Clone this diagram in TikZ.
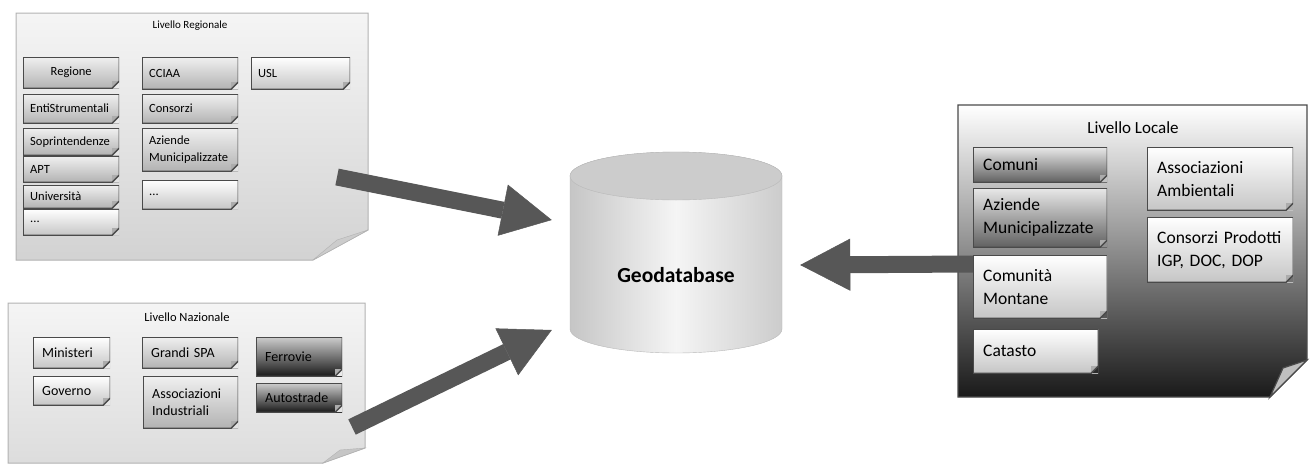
\documentclass[tikz,border=0pt]{standalone}
\usepackage{fontspec}
\setmainfont{Carlito}
\usetikzlibrary{arrows.meta,calc}
\definecolor{freccia}{HTML}{575757}
\definecolor{bordo}{HTML}{4A4A4A}

\tikzset{
  ente/.style={anchor=north west, inner ysep=0pt, align=left, text=black},
  ear/.style={path picture={
    \coordinate (nw) at (path picture bounding box.north west);
    \coordinate (se) at (path picture bounding box.south east);
    \fill[#1] (se) -- ([xshift=-7pt]se) -- ([yshift=7pt]se) -- cycle;
    \fill[gray!65] ([xshift=-7pt]se) -- ([yshift=7pt]se) -- ([shift={(-7pt,7pt)}]se) -- cycle;
    \draw[bordo, line width=1.4pt] (nw) -| ([yshift=7pt]se) -- ([xshift=-7pt]se) -| (nw) -- cycle;
  }},
  chiaro/.style={top color=white, bottom color=gray!45},
  medio/.style={top color=gray!12, bottom color=gray!60},
  forte/.style={top color=gray!18, bottom color=black!62},
  scuro/.style={top color=gray!40, bottom color=black!90},
  regbox/.style={ente, font=\fontsize{12.5}{17}\selectfont, inner xsep=7pt},
  natbox/.style={ente, font=\fontsize{14}{17}\selectfont, inner xsep=9pt},
  locbox/.style={ente, font=\fontsize{17.5}{23}\selectfont, inner xsep=10pt},
  titolo/.style={inner sep=0pt, text=black},
  freccione/.style={freccia, line width=17pt, -{Triangle[length=50pt,width=52pt,line width=0.5pt]}},
}

\begin{document}
\begin{tikzpicture}[x=1pt,y=-1pt]
  \useasboundingbox (0,0) rectangle (1310,466);

  % livello regionale
  \shadedraw[draw=gray!60, line width=1pt, top color=gray!8, bottom color=gray!35]
    (16,13) -- (368,13) -- (368,230) -- (313,260) -- (16,260) -- cycle;
  \filldraw[fill=gray!40, draw=gray!60] (368,230) -- (313,260) -- (337,240) -- cycle;
  \node[titolo, font=\fontsize{11}{13}\selectfont] (regtit) at (190,26) {Livello Regionale};

  % livello nazionale
  \shadedraw[draw=gray!60, line width=1pt, top color=gray!8, bottom color=gray!27]
    (8,303) -- (365,303) -- (365,448) -- (323,463) -- (8,463) -- cycle;
  \filldraw[fill=gray!45, draw=gray!60] (365,448) -- (323,463) -- (340,450) -- cycle;
  \node[titolo, font=\fontsize{12.5}{15}\selectfont] (naztit) at (187,317) {Livello Nazionale};

  % livello locale
  \shadedraw[draw=bordo, line width=1.2pt, top color=white, bottom color=black!90]
    (958,105) -- (1307,105) -- (1307,360) -- (1270,397) -- (958,397) -- cycle;
  \filldraw[fill=gray!50, draw=bordo, line width=1.2pt] (1307,360) -- (1270,397) -- (1283,368) -- cycle;
  \node[titolo, font=\fontsize{17}{20}\selectfont] (loctit) at (1133,128) {Livello Locale};

  % geodatabase
  \shadedraw[draw=gray!55, left color=gray!45, right color=gray!40, middle color=gray!8]
    (570,176) -- (570,329) arc (180:360:106pt and 24pt) -- (782,176) arc (0:180:106pt and 24pt) -- cycle;
  \filldraw[fill=gray!40, draw=gray!55] (676,176) ellipse (106pt and 24pt);
  \node[font=\fontsize{21.5}{24}\selectfont\bfseries, minimum width=212, inner sep=0pt] (geo) at (676,275) {Geodatabase};

  % frecce
  \coordinate (regout) at (337,177);
  \coordinate (nazout) at (352,427);
  \coordinate (locout) at (975,264);
  \draw[freccione] (regout) -- ($(geo.west)+(-18,-55)$);
  \draw[freccione] (nazout) -- ($(geo.west)+(-18,55)$);
  \draw[freccione] (locout) -- ($(geo.east)+(18,-10)$);

  % enti regionali
  \node[regbox, medio, ear=gray!15, text width=82, minimum height=31, align=center] (regione) at (23,57) {Regione};
  \node[regbox, medio, ear=gray!17, text width=82, minimum height=29] (enti) at (23,94) {EntiStrumentali};
  \node[regbox, medio, ear=gray!20, text width=82, minimum height=27] (soprint) at (23,128) {Soprintendenze};
  \node[regbox, medio, ear=gray!23, text width=82, minimum height=26] (apt) at (23,156) {APT};
  \node[regbox, medio, ear=gray!26, text width=82, minimum height=23] (univ) at (23,185) {Università};
  \node[regbox, chiaro, ear=gray!29, text width=82, minimum height=26] (altri1) at (23,209) {...};
  \node[regbox, medio, ear=gray!15, text width=82, minimum height=32] (cciaa) at (142,57) {CCIAA};
  \node[regbox, medio, ear=gray!17, text width=82, minimum height=29] (consorzi) at (142,94) {Consorzi};
  \node[regbox, medio, ear=gray!22, text width=82, minimum height=43] (aziende) at (142,128) {Aziende\\Municipalizzate};
  \node[regbox, chiaro, ear=gray!26, text width=82, minimum height=29] (altri2) at (142,180) {...};
  \node[regbox, chiaro, ear=gray!15, text width=85, minimum height=32] (usl) at (251,57) {USL};

  % enti nazionali
  \node[natbox, chiaro, ear=gray!15, text width=59, minimum height=31] (ministeri) at (33,337) {Ministeri};
  \node[natbox, chiaro, ear=gray!19, text width=59, minimum height=29] (governo) at (33,376) {Governo};
  \node[natbox, medio, ear=gray!15, text width=78, minimum height=31] (grandi) at (142,337) {Grandi SPA};
  \node[natbox, medio, ear=gray!22, text width=77, minimum height=52] (assind) at (143,376) {Associazioni\\Industriali};
  \node[natbox, scuro, ear=gray!16, text width=68, minimum height=39] (ferrovie) at (256,337) {Ferrovie};
  \node[natbox, scuro, ear=gray!20, text width=68, minimum height=29] (autostrade) at (256,383) {Autostrade};

  % enti locali
  \node[locbox, forte, ear=black!24, text width=114, minimum height=35] (comuni) at (973,147) {Comuni};
  \node[locbox, forte, ear=black!44, text width=114, minimum height=59] (azloc) at (973,188) {Aziende\\Municipalizzate};
  \node[locbox, chiaro, ear=black!66, text width=114, minimum height=63] (comunita) at (973,255) {Comunità\\Montane};
  \node[locbox, chiaro, ear=black!83, text width=105, minimum height=44] (catasto) at (973,329) {Catasto};
  \node[locbox, chiaro, ear=black!32, text width=126, minimum height=63] (assamb) at (1147,147) {Associazioni\\Ambientali};
  \node[locbox, chiaro, ear=black!55, text width=126, minimum height=65] (consprod) at (1147,217) {Consorzi Prodotti\\IGP, DOC, DOP};
\end{tikzpicture}
\end{document}
